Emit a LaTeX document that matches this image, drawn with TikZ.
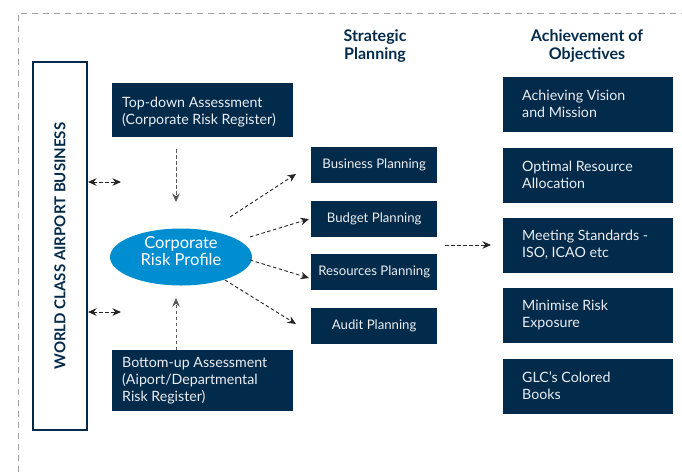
\documentclass[tikz,border=0pt]{standalone}
\usepackage{fontspec}
\setmainfont{Lato}
\usetikzlibrary{arrows.meta,shapes.geometric}
\definecolor{navy}{RGB}{2,42,74}
\definecolor{skyb}{RGB}{0,142,208}
\definecolor{framegray}{RGB}{160,160,160}
\definecolor{boxtext}{RGB}{235,238,242}
\begin{document}
\begin{tikzpicture}[x=1pt,y=-1pt,
  darkbox/.style={fill=navy,draw=none,text=boxtext,inner sep=0pt,anchor=north west},
  boxtxt/.style={text=boxtext,font=\fontsize{14.2}{17}\selectfont,align=left,anchor=west,inner sep=0pt},
  plantxt/.style={text=boxtext,font=\fontsize{13.2}{15}\selectfont,anchor=center},
  head/.style={text=navy,font=\bfseries\fontsize{16}{18}\selectfont,align=center},
  conn/.style={dash pattern=on 3.5pt off 2.5pt,draw=black!85,line width=0.9pt,-{Stealth[length=8.5pt,width=7.5pt]}},
  dconn/.style={dash pattern=on 3.5pt off 2.5pt,draw=black!85,line width=0.9pt,{Stealth[length=8.5pt,width=7.5pt]}-{Stealth[length=8.5pt,width=7.5pt]}}]
\useasboundingbox (0,0) rectangle (682,472);
% frame
\draw[framegray,line width=1pt,dash pattern=on 6pt off 5pt] (18,472) -- (18,13) -- (682,13);
% world class box
\node[draw=navy,line width=1.5pt,minimum width=54pt,minimum height=368pt,inner sep=0pt] (wc) at (60,246) {};
\node[rotate=90,text=navy,font=\bfseries\fontsize{15}{18}\selectfont] (wct) at (wc.center) {WORLD CLASS AIRPORT BUSINESS};
% headers
\node[head] (h1) at (375,46) {Strategic\\Planning};
\node[head] (h2) at (587,46) {Achievement of\\Objectives};
% top-down and bottom-up
\node[darkbox,minimum width=181pt,minimum height=54pt] (td) at (112,83) {};
\node[boxtxt] (tdt) at (122,112.5) {Top-down Assessment\\(Corporate Risk Register)};
\node[darkbox,minimum width=181pt,minimum height=61pt] (bu) at (112,350) {};
\node[boxtxt] (but) at (122,381) {Bottom-up Assessment\\(Aiport/Departmental\\Risk Register)};
% ellipse
\node[ellipse,fill=skyb,minimum width=142pt,minimum height=57pt,inner sep=0pt] (crp) at (181,257) {};
\node[text=white,font=\fontsize{16.5}{17.5}\selectfont,align=center] (crpt) at (181,251) {Corporate\\Risk Profile};
% planning boxes
\foreach \n/\y/\t in {bp/147/Business Planning,bg/201/Budget Planning,rp/254/Resources Planning,ap/308/Audit Planning}{
  \node[darkbox,minimum width=126pt,minimum height=36pt] (\n) at (311,\y) {};
  \node[plantxt] (\n t) at ([yshift=-18pt]\n.north) {\t};
}
% objective boxes
\foreach \n/\y/\a/\b in {o1/77/Achieving Vision/and Mission,o2/148/Optimal Resource/Allocation,o3/218/Meeting Standards -/{ISO, ICAO etc},o4/288/Minimise Risk/Exposure,o5/359/GLC’s Colored/Books}{
  \node[darkbox,minimum width=170pt,minimum height=55pt] (\n) at (503,\y) {};
  \node[boxtxt] (\n t) at (522,\y+27) {\a\\\b};
}
% connectors
\coordinate (tds) at (176,149);
\coordinate (tde) at (176,202);
\draw[conn,draw=black!65] (tds) -- (tde);
\coordinate (bus) at (176,350);
\coordinate (bue) at (176,298);
\draw[conn,draw=black!65] (bus) -- (bue);
\coordinate (d1a) at (88,182);
\coordinate (d1b) at (121,182);
\draw[dconn] (d1a) -- (d1b);
\coordinate (d2a) at (88,312);
\coordinate (d2b) at (121,312);
\draw[dconn] (d2a) -- (d2b);
\coordinate (a1s) at (230,217);
\coordinate (a1e) at (296,174);
\draw[conn] (a1s) -- (a1e);
\coordinate (a2s) at (250,237);
\coordinate (a2e) at (309,219);
\draw[conn] (a2s) -- (a2e);
\coordinate (a3s) at (250,260);
\coordinate (a3e) at (309,278);
\draw[conn] (a3s) -- (a3e);
\coordinate (a4s) at (225,280);
\coordinate (a4e) at (296,324);
\draw[conn] (a4s) -- (a4e);
\coordinate (ms) at (445,245);
\coordinate (me) at (491,245);
\draw[conn] (ms) -- (me);
\end{tikzpicture}
\end{document}
